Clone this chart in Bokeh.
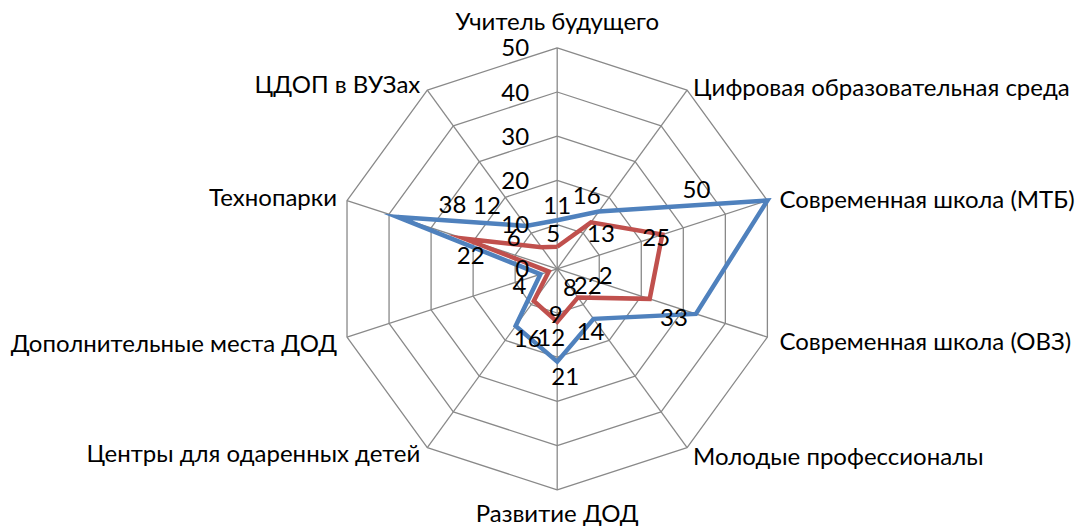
import math
from bokeh.plotting import figure
from bokeh.models import ColumnDataSource, Range1d
from bokeh.core.properties import value
from bokeh.embed import file_html
from bokeh.resources import INLINE

categories = [
    "Учитель будущего",
    "Цифровая образовательная среда",
    "Современная школа (МТБ)",
    "Современная школа (ОВЗ)",
    "Молодые профессионалы",
    "Развитие ДОД",
    "Центры для одаренных детей",
    "Дополнительные места ДОД",
    "Технопарки",
    "ЦДОП в ВУЗах",
]
blue_values = [11, 16, 50, 33, 14, 21, 16, 4, 38, 12]
red_values = [5, 13, 25, 22, 8, 12, 9, 2, 22, 6]
tick_values = [0, 10, 20, 30, 40, 50]
tick_labels = ["0", "10", "20", "30", "40", "50"]

# ---- layout / style (not data) ----
W, H = 1082, 529
PX = 4.42              # pixels per unit
CX, CY = 556.7, 268.3  # centre in figure pixels
MAXV = 50
FONT = "Lato"
FS = "24px"
BLUE = "#4F81BD"
RED = "#C0504D"
GRID = "#898989"

blue_label_off = [(0, -15), (-12, -16), (-71, -11), (-22, 4), (-3, 13),
                  (8, 15), (12, 12), (-21, 11), (55, -12), (-39, -20)]
red_label_off = [(-4, -13), (10, 11), (-6, 3), (-62, -13), (-8, -10),
                 (-6, 16), (22, 14), (57, 4), (6, 17), (-28, -10)]
cat_label_off = [(0, -27, "center"), (6, -4, "left"), (12, -2, "left"),
                 (12, 3, "left"), (6, 8, "left"), (0, 23, "center"),
                 (-7, 5, "right"), (-10, 5, "right"), (-10, -4, "right"),
                 (-7, -7, "right")]

n = len(categories)
angles = [2 * math.pi * i / n for i in range(n)]


def pol(v, a):
    return v * math.sin(a), v * math.cos(a)


p = figure(width=W, height=H, output_backend="svg", toolbar_location=None,
           x_range=Range1d(-CX / PX, (W - CX) / PX),
           y_range=Range1d(-(H - CY) / PX, CY / PX),
           min_border=0)
p.axis.visible = False
p.grid.visible = False
p.outline_line_color = None
p.background_fill_color = "white"
p.border_fill_color = "white"

# grid rings
for t in tick_values[1:]:
    xs = [pol(t, a)[0] for a in angles] + [pol(t, angles[0])[0]]
    ys = [pol(t, a)[1] for a in angles] + [pol(t, angles[0])[1]]
    p.line(xs, ys, line_color=GRID, line_width=1.3)
# spokes
for a in angles:
    x1, y1 = pol(MAXV, a)
    p.line([0, x1], [0, y1], line_color=GRID, line_width=1.3)


def series(vals, color):
    xs = [pol(v, a)[0] for v, a in zip(vals, angles)]
    ys = [pol(v, a)[1] for v, a in zip(vals, angles)]
    p.line(xs + [xs[0]], ys + [ys[0]], line_color=color, line_width=4.5,
           line_join="miter")
    return xs, ys


bx, by = series(blue_values, BLUE)
rx, ry = series(red_values, RED)

# axis tick labels
p.text(x=[0] * len(tick_values), y=tick_values, text=tick_labels,
       x_offset=-28, text_align="right", text_baseline="middle",
       text_font=value(FONT), text_font_size=FS, text_color="black")

# data labels
for xs, ys, vals, offs in ((bx, by, blue_values, blue_label_off),
                           (rx, ry, red_values, red_label_off)):
    src = ColumnDataSource(dict(x=xs, y=ys, t=[str(v) for v in vals],
                                dx=[o[0] for o in offs], dy=[o[1] for o in offs]))
    p.text(x="x", y="y", text="t", x_offset="dx", y_offset="dy", source=src,
           text_align="center", text_baseline="middle",
           text_font=value(FONT), text_font_size=FS, text_color="black")

# category labels
for cat, a, (dx, dy, al) in zip(categories, angles, cat_label_off):
    vx, vy = pol(MAXV, a)
    p.text(x=[vx], y=[vy], text=[cat], x_offset=dx, y_offset=dy,
           text_align=al, text_baseline="middle",
           text_font=value(FONT), text_font_size=FS, text_color="black")

open("out.html", "w").write(file_html(p, INLINE))
